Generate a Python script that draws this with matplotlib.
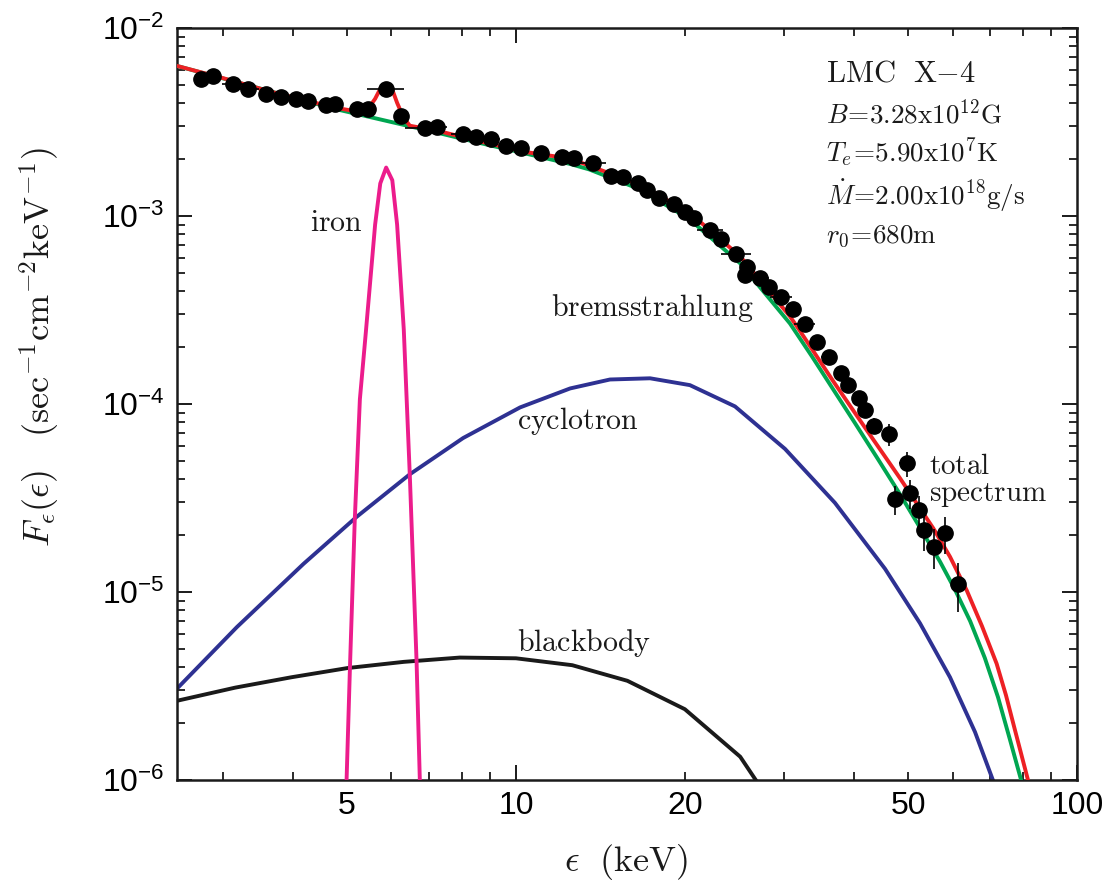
import numpy as np
import matplotlib
matplotlib.use("Agg")
import matplotlib.pyplot as plt
from matplotlib.ticker import LogLocator, FuncFormatter, NullFormatter

plt.rcParams['font.family'] = ['Liberation Sans', 'DejaVu Sans']
plt.rcParams['mathtext.fontset'] = 'cm'

# observed spectrum (keV, photons / s / cm^2 / keV)
e_obs = [2.74, 2.88, 3.13, 3.33, 3.59, 3.82, 4.05, 4.26, 4.58, 4.76,
         5.20, 5.45, 5.87, 6.23, 6.88, 7.22, 8.06, 8.48, 9.01, 9.60,
         10.2, 11.1, 12.1, 12.7, 13.7, 14.8, 15.5, 16.5, 17.1, 17.96,
         19.1, 20.0, 20.8, 22.2, 23.2, 24.7, 25.8, 25.6, 27.2, 28.3,
         29.7, 31.2, 32.7, 34.4, 36.2, 37.9, 39.0, 40.8, 41.9, 43.5,
         46.2, 49.7, 47.4, 50.4, 52.3, 53.4, 55.5, 58.2, 61.3]
f_obs = [5.35e-3, 5.55e-3, 5.02e-3, 4.72e-3, 4.43e-3, 4.31e-3, 4.18e-3, 4.10e-3, 3.88e-3, 3.93e-3,
         3.72e-3, 3.72e-3, 4.74e-3, 3.39e-3, 2.95e-3, 2.99e-3, 2.72e-3, 2.63e-3, 2.56e-3, 2.36e-3,
         2.30e-3, 2.17e-3, 2.07e-3, 2.03e-3, 1.92e-3, 1.64e-3, 1.62e-3, 1.50e-3, 1.37e-3, 1.25e-3,
         1.16e-3, 1.05e-3, 9.72e-4, 8.43e-4, 7.52e-4, 6.25e-4, 5.37e-4, 4.83e-4, 4.69e-4, 4.19e-4,
         3.69e-4, 3.19e-4, 2.67e-4, 2.14e-4, 1.77e-4, 1.47e-4, 1.26e-4, 1.08e-4, 9.29e-5, 7.67e-5,
         6.90e-5, 4.83e-5, 3.11e-5, 3.35e-5, 2.73e-5, 2.14e-5, 1.74e-5, 2.05e-5, 1.10e-5]
e_err = [0.07, 0.07, 0.14, 0.15, 0.08, 0.08, 0.08, 0.08, 0.10, 0.16,
         0.10, 0.10, 0.45, 0.12, 0.55, 0.30, 0.40, 0.20, 0.35, 0.20,
         0.20, 0.25, 0.25, 0.25, 0.80, 0.30, 0.30, 0.35, 0.35, 0.35,
         0.40, 0.40, 0.40, 1.20, 0.50, 1.50, 0.50, 0.50, 1.00, 0.60,
         1.30, 0.60, 1.40, 0.80, 1.20, 0.80, 0.80, 0.80, 0.80, 1.45,
         1.00, 1.60, 1.00, 1.00, 1.00, 1.00, 1.00, 1.70, 1.00]
f_err = [8e-5, 8e-5, 7e-5, 7e-5, 6e-5, 6e-5, 6e-5, 6e-5, 5e-5, 5e-5,
         5e-5, 5e-5, 6e-5, 5e-5, 4e-5, 4e-5, 4e-5, 4e-5, 4e-5, 3e-5,
         3e-5, 3e-5, 3e-5, 3e-5, 3e-5, 2.5e-5, 2.5e-5, 2.5e-5, 2e-5, 2e-5,
         2e-5, 2e-5, 1.8e-5, 1.6e-5, 1.5e-5, 1.3e-5, 1.2e-5, 1.2e-5, 1.1e-5, 1.1e-5,
         1.0e-5, 1.0e-5, 1.0e-5, 1.0e-5, 1.0e-5, 0.9e-5, 0.8e-5, 0.85e-5, 0.6e-5, 0.71e-5,
         0.94e-5, 0.74e-5, 0.55e-5, 0.58e-5, 0.53e-5, 0.48e-5, 0.42e-5, 0.45e-5, 0.32e-5]

# model components
e_total = [2.49, 3.0, 3.64, 4.3, 4.78, 5.2, 5.45, 5.61, 5.73, 5.87, 6.02, 6.14, 6.30, 6.47,
           7.22, 8.5, 10.4, 12.5, 16.6, 20.4, 25.1, 30.8, 32.07, 36.78, 42.18, 48.36, 55.45,
           59.38, 63.6, 67.7, 71.9, 74.7, 77.5, 81.8, 82.5]
f_total = [6.28e-3, 5.42e-3, 4.6e-3, 4.06e-3, 3.76e-3, 3.6e-3, 3.72e-3, 4.2e-3, 4.75e-3, 5.05e-3,
           4.7e-3, 4.0e-3, 3.35e-3, 3.02e-3, 2.85e-3, 2.52e-3, 2.19e-3, 2.02e-3, 1.47e-3, 1.04e-3,
           6.1e-4, 2.92e-4, 2.45e-4, 1.32e-4, 7.27e-5, 4.03e-5, 2.18e-5,
           1.54e-5, 1.02e-5, 6.59e-6, 4.16e-6, 2.83e-6, 1.85e-6, 9.97e-7, 9.0e-7]

e_brems = [2.49, 3.0, 4.3, 4.78, 7.22, 8.5, 10.4, 12.5, 13.5, 16.6, 20.4, 25.1, 30.79, 33.7,
           36.74, 40.2, 44.2, 48.4, 52.5, 57.0, 60.6, 64.5, 68.5, 72.3, 75.9, 79.8]
f_brems = [6.28e-3, 5.40e-3, 4.03e-3, 3.70e-3, 2.78e-3, 2.47e-3, 2.15e-3, 1.89e-3, 1.77e-3, 1.39e-3,
           9.6e-4, 5.6e-4, 2.68e-4, 1.79e-4, 1.20e-4, 7.92e-5, 5.08e-5, 3.30e-5, 2.20e-5, 1.45e-5,
           1.03e-5, 7.0e-6, 4.46e-6, 2.76e-6, 1.65e-6, 9.6e-7]

e_cyc = [2.49, 3.18, 4.18, 5.20, 6.47, 8.05, 10.17, 12.49, 14.71, 17.34, 20.42, 24.57, 30.17,
         37.03, 45.47, 52.5, 59.38, 65.8, 70.8, 71.4]
f_cyc = [3.07e-6, 6.50e-6, 1.41e-5, 2.51e-5, 4.23e-5, 6.59e-5, 9.59e-5, 1.21e-4, 1.35e-4, 1.37e-4,
         1.26e-4, 9.71e-5, 5.77e-5, 2.98e-5, 1.33e-5, 6.82e-6, 3.52e-6, 1.80e-6, 1.0e-6, 9.4e-7]

e_bb = [2.49, 3.16, 3.98, 5.01, 6.31, 7.94, 10.0, 12.6, 15.8, 20.0, 25.1, 27.0]
f_bb = [2.64e-6, 3.1e-6, 3.52e-6, 3.94e-6, 4.25e-6, 4.48e-6, 4.44e-6, 4.08e-6, 3.37e-6, 2.38e-6,
        1.33e-6, 9.6e-7]

e_iron = [4.99, 5.06, 5.16, 5.27, 5.40, 5.61, 5.73, 5.87, 6.02, 6.14, 6.31, 6.47, 6.65, 6.74]
f_iron = [1e-6, 4.0e-6, 2.4e-5, 1.06e-4, 2.4e-4, 9.0e-4, 1.49e-3, 1.81e-3, 1.55e-3, 9.0e-4,
          2.5e-4, 4.1e-5, 4.3e-6, 1e-6]

W, H = 1115, 890
fig = plt.figure(figsize=(W / 100, H / 100), dpi=100)
ax = fig.add_axes([177 / W, 1 - 780 / H, 900 / W, 752 / H])

lw = 2.8
ax.plot(e_bb, f_bb, color='#1a1a1a', lw=lw, zorder=2)
ax.plot(e_cyc, f_cyc, color='#2e3192', lw=lw, zorder=2)
ax.plot(e_iron, f_iron, color='#ec1c8c', lw=lw, zorder=3)
ax.plot(e_brems, f_brems, color='#00a651', lw=lw, zorder=3)
ax.plot(e_total, f_total, color='#ed2024', lw=lw, zorder=4)
ax.errorbar(e_obs, f_obs, xerr=e_err, yerr=f_err, fmt='o', color='black',
            ms=11, elinewidth=1.2, capsize=0, zorder=5)

ax.set_xscale('log')
ax.set_yscale('log')
ax.set_xlim(2.488, 100)
ax.set_ylim(1e-6, 1e-2)

ax.xaxis.set_major_locator(LogLocator(base=10, numticks=10))
ax.xaxis.set_minor_locator(LogLocator(base=10, subs=np.arange(2, 10), numticks=10))
ax.yaxis.set_major_locator(LogLocator(base=10, numticks=10))
ax.yaxis.set_minor_locator(LogLocator(base=10, subs=np.arange(2, 10), numticks=10))


def xlabel_fmt(v, pos):
    n = int(round(v))
    return str(n) if n in (5, 10, 20, 50, 100) else ''


ax.xaxis.set_major_formatter(FuncFormatter(xlabel_fmt))
ax.xaxis.set_minor_formatter(FuncFormatter(xlabel_fmt))
ax.yaxis.set_major_formatter(FuncFormatter(
    lambda v, pos: r'$\mathregular{10^{%d}}$' % int(round(np.log10(v)))))
ax.yaxis.set_minor_formatter(NullFormatter())

ax.tick_params(which='both', direction='in', top=True, right=True,
               labelsize=23, color='#1a1a1a')
ax.tick_params(which='major', length=11, width=1.4)
ax.tick_params(which='minor', length=6, width=1.3)
ax.tick_params(axis='x', which='both', pad=8)
ax.tick_params(axis='y', which='both', pad=9)
for s in ax.spines.values():
    s.set_linewidth(1.8)
    s.set_color('#1a1a1a')


# labels, placed by pixel position converted to figure fractions
def ftext(x, y, s, size, **kw):
    fig.text(x / W, 1 - y / H, s, fontsize=size, math_fontfamily='cm',
             color='#1a1a1a', **kw)


ftext(40, 347, r'$F_\epsilon(\epsilon)\ \ \ (\mathrm{sec}^{-1}\mathrm{cm}^{-2}\mathrm{keV}^{-1})$',
      26, rotation=90, ha='center', va='center')
ftext(626, 862, r'$\epsilon\ \ (\mathrm{keV})$', 26, ha='center', va='center')

ftext(826, 82, r'$\mathrm{LMC\ \ X{-}4}$', 22, ha='left', va='baseline')
ftext(826, 123, r'$B\!=\!3.28\mathrm{x}10^{12}\mathrm{G}$', 19.5, ha='left', va='baseline')
ftext(826, 162, r'$T_e\!=\!5.90\mathrm{x}10^{7}\mathrm{K}$', 19.5, ha='left', va='baseline')
ftext(826, 205, r'$\dot{M}\!=\!2.00\mathrm{x}10^{18}\mathrm{g/s}$', 19.5, ha='left', va='baseline')
ftext(826, 242, r'$r_0\!=\!680\mathrm{m}$', 19.5, ha='left', va='baseline')

ftext(310, 231, r'$\mathrm{iron}$', 21.5, ha='left', va='baseline')
ftext(551, 316, r'$\mathrm{bremsstrahlung}$', 21.5, ha='left', va='baseline')
ftext(517, 429, r'$\mathrm{cyclotron}$', 21.5, ha='left', va='baseline')
ftext(517, 651, r'$\mathrm{blackbody}$', 21.5, ha='left', va='baseline')
ftext(929, 501, '$\\mathrm{total}$\n$\\mathrm{spectrum}$', 21, ha='left', va='baseline',
      linespacing=0.95)

fig.savefig('out.png', dpi=100)
